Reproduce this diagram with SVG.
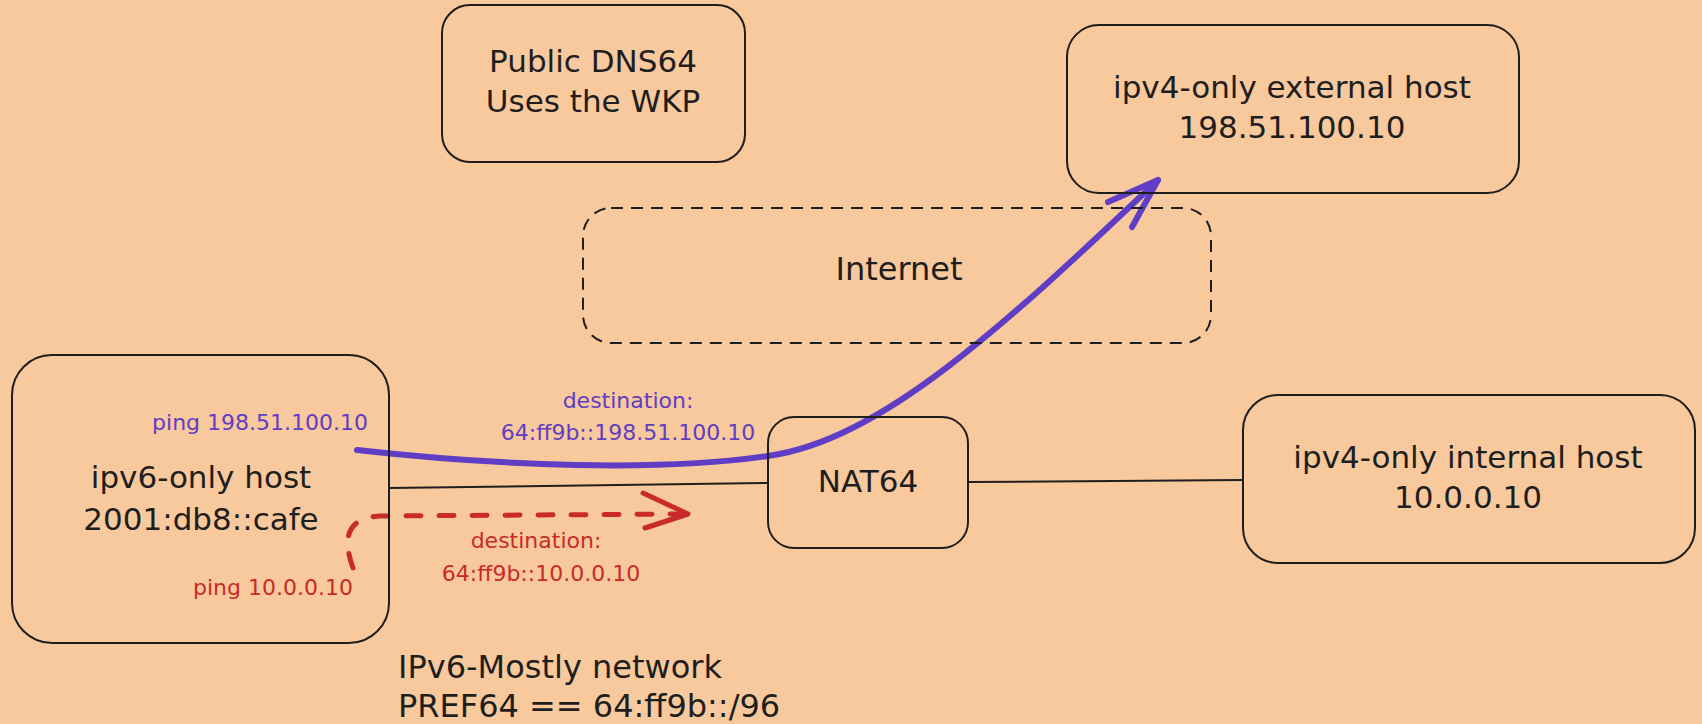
<svg xmlns="http://www.w3.org/2000/svg" width="1702" height="724" viewBox="0 0 1702 724">
  <defs>
    <style>
      .box { fill: none; stroke: #1e1e1e; stroke-width: 2; }
      .dashed { stroke-dasharray: 12 8; }
      .lbl { font-family: "DejaVu Sans", "Liberation Sans", sans-serif; fill: #1e1e1e; text-anchor: middle; font-size: 31px; }
      .sm { font-family: "DejaVu Sans", "Liberation Sans", sans-serif; font-size: 22px; }
      .blue { fill: #5f3dc4; }
      .red { fill: #c92a2a; }
      .link { fill: none; stroke: #1e1e1e; stroke-width: 2; }
      .bluepath { fill: none; stroke: #5f3dc4; stroke-width: 6; stroke-linecap: round; stroke-linejoin: round; }
      .redpath { fill: none; stroke: #c92a2a; stroke-width: 5; stroke-linecap: round; stroke-linejoin: round; }
    </style>
  </defs>
  <rect x="0" y="0" width="1702" height="724" fill="#f8c99c"/>

  <g id="connectors">
    <path class="link" d="M389,488 L768,483"/>
    <path class="link" d="M968,482 L1243,480"/>
    <path class="bluepath" d="M357,450 C500,466 660,472 768,456 C880,440 1000,330 1158,180"/>
    <path class="bluepath" d="M1108,202 L1158,180 L1132,227"/>
    <path class="redpath" stroke-dasharray="15 18" d="M353,568 C343,540 345,518 380,516 L684,514"/>
    <path class="redpath" d="M643,493 L688,514 L645,528"/>
  </g>

  <g id="dns64">
    <rect class="box" x="442" y="5" width="303" height="157" rx="28"/>
    <text class="lbl" x="593" y="72">Public DNS64</text>
    <text class="lbl" x="593" y="112">Uses the WKP</text>
  </g>

  <g id="external-host">
    <rect class="box" x="1067" y="25" width="452" height="168" rx="32"/>
    <text class="lbl" x="1292" y="98">ipv4-only external host</text>
    <text class="lbl" x="1292" y="138">198.51.100.10</text>
  </g>

  <g id="internet">
    <rect class="box dashed" x="583" y="208" width="628" height="135" rx="28"/>
    <text class="lbl" x="899" y="280" style="font-size:32px">Internet</text>
  </g>

  <g id="ipv6-host">
    <rect class="box" x="12" y="355" width="377" height="288" rx="40"/>
    <text class="lbl" x="201" y="488">ipv6-only host</text>
    <text class="lbl" x="201" y="530">2001:db8::cafe</text>
    <text class="sm blue" x="368" y="430" text-anchor="end">ping 198.51.100.10</text>
    <text class="sm red" x="353" y="595" text-anchor="end">ping 10.0.0.10</text>
  </g>

  <g id="nat64">
    <rect class="box" x="768" y="417" width="200" height="131" rx="26"/>
    <text class="lbl" x="868" y="492">NAT64</text>
  </g>

  <g id="internal-host">
    <rect class="box" x="1243" y="395" width="452" height="168" rx="35"/>
    <text class="lbl" x="1468" y="468">ipv4-only internal host</text>
    <text class="lbl" x="1468" y="508">10.0.0.10</text>
  </g>

  <g id="labels">
    <text class="sm blue" x="628" y="408" text-anchor="middle">destination:</text>
    <text class="sm blue" x="628" y="440" text-anchor="middle">64:ff9b::198.51.100.10</text>
    <text class="sm red" x="536" y="548" text-anchor="middle">destination:</text>
    <text class="sm red" x="541" y="581" text-anchor="middle">64:ff9b::10.0.0.10</text>
  </g>

  <g id="network-note">
    <text class="lbl" x="398" y="678" style="font-size:32px;text-anchor:start">IPv6-Mostly network</text>
    <text class="lbl" x="398" y="717" style="font-size:32px;text-anchor:start">PREF64 == 64:ff9b::/96</text>
  </g>
</svg>
